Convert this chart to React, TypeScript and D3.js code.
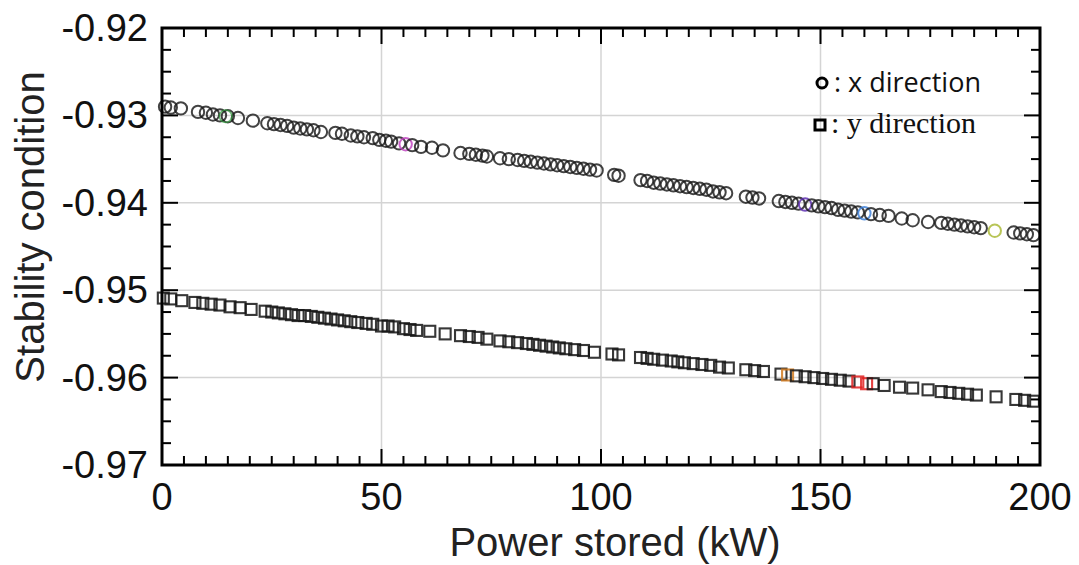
import React, { useEffect, useRef } from 'react'
import * as d3 from 'd3'

// x direction (circles): power stored (kW) and stability condition
const xDirPower = [
  0.7, 2.0, 4.3, 8.2, 10.0, 11.6, 13.2, 15.0, 17.3, 20.7, 24.0, 25.5, 27.0, 28.5, 30.0, 31.5,
  33.0, 34.5, 36.2, 39.5, 41.0, 43.0, 44.5, 46.0, 48.0, 49.5, 51.0, 52.2, 54.0, 55.5, 57.0,
  59.0, 61.5, 64.0, 68.0, 70.0, 71.5, 73.0, 74.0, 77.0, 79.0, 81.0, 82.5, 84.0, 85.5, 87.0,
  88.5, 90.0, 91.5, 93.0, 94.5, 96.0, 97.5, 99.0, 103.0, 104.0, 109.0, 110.5, 112.0, 113.5,
  115.0, 116.5, 118.0, 119.5, 121.0, 122.5, 124.0, 125.5, 127.0, 128.5, 133.0, 134.5, 136.0,
  140.5, 142.0, 143.5, 145.0, 146.5, 148.0, 149.5, 151.0, 152.5, 154.0, 155.5, 157.0, 158.5,
  160.0, 161.5, 163.5, 165.5, 168.5, 171.0, 174.5, 177.5, 179.0, 180.5, 182.0, 183.5, 185.0,
  186.5, 189.7, 194.0, 195.5, 197.0, 198.5,
]
const xDirStability = [
  -0.9290, -0.9291, -0.9292, -0.9296, -0.9297, -0.9299, -0.9300, -0.9301, -0.9303, -0.9306,
  -0.9309, -0.9310, -0.9311, -0.9312, -0.9314, -0.9315, -0.9316, -0.9317, -0.9319, -0.9320,
  -0.9321, -0.9323, -0.9324, -0.9325, -0.9326, -0.9328, -0.9329, -0.9330, -0.9332, -0.9333,
  -0.9334, -0.9336, -0.9337, -0.9340, -0.9343, -0.9344, -0.9345, -0.9346, -0.9347, -0.9349,
  -0.9350, -0.9351, -0.9352, -0.9353, -0.9354, -0.9355, -0.9356, -0.9357, -0.9358, -0.9359,
  -0.9360, -0.9361, -0.9362, -0.9363, -0.9368, -0.9369, -0.9374, -0.9375, -0.9377, -0.9378,
  -0.9379, -0.9380, -0.9381, -0.9382, -0.9383, -0.9384, -0.9385, -0.9387, -0.9388, -0.9389,
  -0.9393, -0.9394, -0.9395, -0.9398, -0.9399, -0.9400, -0.9401, -0.9402, -0.9403, -0.9404,
  -0.9405, -0.9406, -0.9408, -0.9409, -0.9410, -0.9411, -0.9412, -0.9413, -0.9414, -0.9415,
  -0.9418, -0.9420, -0.9422, -0.9423, -0.9424, -0.9425, -0.9426, -0.9427, -0.9428, -0.9429,
  -0.9432, -0.9434, -0.9435, -0.9436, -0.9437,
]
// a few markers in the original are tinted
const xDirTints: Record<number, string> = {
  14.5: '#2f9a3a', 55.5: '#c040c0', 146.5: '#5a2bb0', 160.0: '#3b7fd9', 189.7: '#a8b832',
}

// y direction (squares)
const yDirPower = [
  0.3, 2.0, 4.5, 7.5, 9.3, 11.2, 13.2, 15.5, 17.8, 20.3, 23.5, 25.0, 26.5, 28.0, 29.5, 31.0,
  32.5, 34.0, 35.5, 37.0, 38.5, 40.0, 41.5, 43.0, 44.6, 46.5, 48.0, 50.0, 51.5, 53.0, 55.0,
  56.5, 58.0, 61.0, 64.5, 68.0, 70.0, 72.0, 74.0, 77.0, 79.0, 81.0, 83.0, 84.5, 86.0, 87.5,
  89.0, 90.5, 92.0, 94.0, 96.0, 98.5, 102.5, 104.0, 109.0, 110.5, 112.0, 114.0, 116.0, 117.5,
  119.0, 121.0, 123.0, 125.0, 127.0, 129.0, 133.0, 135.0, 137.0, 141.0, 142.5, 144.5, 146.5,
  148.5, 150.5, 152.5, 154.5, 156.5, 158.5, 160.5, 162.0, 164.5, 168.0, 171.0, 174.5, 177.5,
  179.5, 181.5, 183.5, 185.5, 190.0, 194.5, 196.5, 198.5,
]
const yDirStability = [
  -0.9509, -0.9510, -0.9512, -0.9514, -0.9515, -0.9516, -0.9517, -0.9519, -0.9520, -0.9522,
  -0.9524, -0.9525, -0.9526, -0.9527, -0.9528, -0.9529, -0.9529, -0.9530, -0.9531, -0.9532,
  -0.9533, -0.9534, -0.9535, -0.9536, -0.9537, -0.9538, -0.9539, -0.9541, -0.9541, -0.9542,
  -0.9544, -0.9545, -0.9546, -0.9547, -0.9550, -0.9552, -0.9553, -0.9554, -0.9556, -0.9558,
  -0.9559, -0.9560, -0.9561, -0.9562, -0.9563, -0.9564, -0.9565, -0.9566, -0.9567, -0.9568,
  -0.9569, -0.9571, -0.9573, -0.9574, -0.9577, -0.9578, -0.9579, -0.9580, -0.9581, -0.9582,
  -0.9583, -0.9584, -0.9585, -0.9586, -0.9588, -0.9589, -0.9591, -0.9592, -0.9593, -0.9596,
  -0.9597, -0.9598, -0.9599, -0.9600, -0.9601, -0.9602, -0.9603, -0.9604, -0.9605, -0.9607,
  -0.9607, -0.9609, -0.9611, -0.9612, -0.9614, -0.9616, -0.9617, -0.9618, -0.9619, -0.9620,
  -0.9622, -0.9625, -0.9626, -0.9627,
]
const yDirTints: Record<number, string> = { 142.5: '#d07a20', 158.5: '#e02020', 160.5: '#e02020' }

const xTicks = [0, 50, 100, 150, 200]
const yTicks = [-0.92, -0.93, -0.94, -0.95, -0.96, -0.97]

const W = 1079
const H = 565
const FONT = '"Liberation Sans", Arial, sans-serif'

export default function App() {
  const svgRef = useRef<SVGSVGElement>(null)

  useEffect(() => {
    document.body.style.margin = '0'
    const margin = { top: 28, right: 39, bottom: 100, left: 162 }
    const innerW = W - margin.left - margin.right
    const innerH = H - margin.top - margin.bottom

    const svg = d3.select(svgRef.current)
    svg.selectAll('*').remove()

    const x = d3.scaleLinear().domain([0, 200]).range([0, innerW])
    const y = d3.scaleLinear().domain([-0.97, -0.92]).range([innerH, 0])

    const g = svg.append('g').attr('transform', `translate(${margin.left},${margin.top})`)

    // grid
    g.selectAll('.gx').data(xTicks.slice(1, -1)).join('line')
      .attr('x1', d => x(d)).attr('x2', d => x(d)).attr('y1', 0).attr('y2', innerH)
      .attr('stroke', '#d4d4d4').attr('stroke-width', 1.5)
    g.selectAll('.gy').data(yTicks.slice(1, -1)).join('line')
      .attr('y1', d => y(d)).attr('y2', d => y(d)).attr('x1', 0).attr('x2', innerW)
      .attr('stroke', '#d4d4d4').attr('stroke-width', 1.5)

    // circles
    g.append('g').selectAll('circle').data(xDirPower).join('circle')
      .attr('cx', d => x(d)).attr('cy', (d, i) => y(xDirStability[i]))
      .attr('r', 6.2).attr('fill', 'none')
      .attr('stroke', d => xDirTints[d] || '#1a1a1a').attr('stroke-opacity', 0.82)
      .attr('stroke-width', 2)
    // extra tinted circle near 14.5 kW
    g.append('circle').attr('cx', x(14.5)).attr('cy', y(-0.9301)).attr('r', 6.2)
      .attr('fill', 'none').attr('stroke', xDirTints[14.5]).attr('stroke-opacity', 0.7).attr('stroke-width', 1.6)

    // squares
    const s = 11
    g.append('g').selectAll('rect').data(yDirPower).join('rect')
      .attr('x', d => x(d) - s / 2).attr('y', (d, i) => y(yDirStability[i]) - s / 2)
      .attr('width', s).attr('height', s).attr('fill', 'none')
      .attr('stroke', d => yDirTints[d] || '#141414').attr('stroke-opacity', 0.85)
      .attr('stroke-width', 2.1)

    // ticks (inward, all four sides)
    const xMinor = d3.range(0, 201, 5)
    const yMinor = d3.range(0, 21).map(i => -0.97 + i * 0.0025)
    const tickLen = (major: boolean) => (major ? 16 : 9)
    const isMajX = (d: number) => Math.abs(d % 50) < 1e-6
    const isMajY = (d: number) => Math.abs(Math.round(d * 100) - d * 100) < 1e-6
    const tg = g.append('g').attr('stroke', '#000').attr('stroke-width', 2)
    xMinor.forEach(d => {
      const l = tickLen(isMajX(d))
      tg.append('line').attr('x1', x(d)).attr('x2', x(d)).attr('y1', innerH).attr('y2', innerH - l)
      tg.append('line').attr('x1', x(d)).attr('x2', x(d)).attr('y1', 0).attr('y2', l)
    })
    yMinor.forEach(d => {
      const l = tickLen(isMajY(d))
      tg.append('line').attr('y1', y(d)).attr('y2', y(d)).attr('x1', 0).attr('x2', l)
      tg.append('line').attr('y1', y(d)).attr('y2', y(d)).attr('x1', innerW).attr('x2', innerW - l)
    })

    // frame
    g.append('rect').attr('width', innerW).attr('height', innerH)
      .attr('fill', 'none').attr('stroke', '#000').attr('stroke-width', 3)

    // tick labels
    g.selectAll('.xl').data(xTicks).join('text')
      .attr('x', d => x(d)).attr('y', innerH + 45)
      .attr('text-anchor', 'middle').attr('font-family', FONT).attr('font-size', 38)
      .attr('fill', '#111').text(d => String(d))
    g.selectAll('.yl').data(yTicks).join('text')
      .attr('x', -14).attr('y', d => y(d) + 13)
      .attr('text-anchor', 'end').attr('font-family', FONT).attr('font-size', 38)
      .attr('fill', '#111').text(d => d.toFixed(2))

    // axis titles
    svg.append('text').attr('x', 615).attr('y', 556)
      .attr('text-anchor', 'middle').attr('font-family', FONT).attr('font-size', 40)
      .attr('fill', '#222').text('Power stored (kW)')
    svg.append('text').attr('transform', 'translate(44,227) rotate(-90)')
      .attr('text-anchor', 'middle').attr('font-family', FONT).attr('font-size', 40)
      .attr('fill', '#222').text('Stability condition')

    // legend
    svg.append('circle').attr('cx', 822).attr('cy', 83).attr('r', 5)
      .attr('fill', 'none').attr('stroke', '#000').attr('stroke-width', 3)
    svg.append('text').attr('x', 834).attr('y', 92)
      .attr('font-family', '"Open Sans", "Noto Sans", sans-serif').attr('font-size', 27)
      .attr('fill', '#111').text(': x direction')
    svg.append('rect').attr('x', 815).attr('y', 120).attr('width', 10).attr('height', 10)
      .attr('fill', 'none').attr('stroke', '#000').attr('stroke-width', 3)
    svg.append('text').attr('x', 831).attr('y', 133)
      .attr('font-family', '"Liberation Serif", "Times New Roman", serif').attr('font-size', 30)
      .attr('fill', '#111').text(': y direction')
  }, [])

  return <svg ref={svgRef} width={W} height={H} style={{ display: 'block', background: '#fff' }} />
}
